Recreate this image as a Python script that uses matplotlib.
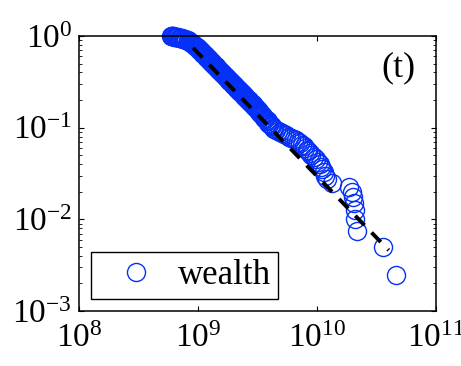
import matplotlib
matplotlib.use("Agg")
import matplotlib.pyplot as plt
from matplotlib.ticker import LogLocator

plt.rcParams["font.family"] = ["Liberation Serif", "DejaVu Serif"]
plt.rcParams["mathtext.fontset"] = "stix"

# wealth values (sorted) and their complementary cumulative distribution
wealth = [
    5.93e8, 6.00e8, 6.07e8, 6.14e8, 6.21e8, 6.28e8, 6.38e8, 6.47e8, 6.58e8, 6.69e8,
    6.80e8, 6.92e8, 7.04e8, 7.17e8, 7.29e8, 7.41e8, 7.50e8, 7.62e8, 7.74e8, 7.86e8,
    7.95e8, 8.25e8, 8.41e8, 8.55e8, 8.71e8, 8.88e8, 9.05e8, 9.22e8, 9.39e8, 9.57e8,
    9.74e8, 9.93e8, 1.012e9, 1.027e9, 1.042e9, 1.059e9, 1.074e9, 1.090e9, 1.107e9, 1.124e9,
    1.140e9, 1.156e9, 1.174e9, 1.193e9, 1.209e9, 1.226e9, 1.246e9, 1.265e9, 1.284e9, 1.303e9,
    1.322e9, 1.342e9, 1.362e9, 1.383e9, 1.403e9, 1.425e9, 1.445e9, 1.467e9, 1.490e9, 1.512e9,
    1.536e9, 1.558e9, 1.582e9, 1.606e9, 1.628e9, 1.654e9, 1.677e9, 1.704e9, 1.730e9, 1.756e9,
    1.783e9, 1.807e9, 1.836e9, 1.861e9, 1.893e9, 1.921e9, 1.949e9, 1.978e9, 2.009e9, 2.035e9,
    2.068e9, 2.097e9, 2.132e9, 2.161e9, 2.193e9, 2.226e9, 2.259e9, 2.294e9, 2.330e9, 2.368e9,
    2.399e9, 2.439e9, 2.472e9, 2.506e9, 2.550e9, 2.587e9, 2.626e9, 2.665e9, 2.706e9, 2.749e9,
    2.781e9, 2.827e9, 2.874e9, 2.911e9, 2.961e9, 3.000e9, 3.041e9, 3.096e9, 3.141e9, 3.185e9,
    3.232e9, 3.280e9, 3.293e9, 3.371e9, 3.443e9, 3.520e9, 3.602e9, 3.688e9, 3.778e9, 3.875e9,
    3.887e9, 3.980e9, 4.072e9, 4.165e9, 4.274e9, 4.350e9, 4.523e9, 4.700e9, 4.889e9, 5.080e9,
    5.281e9, 5.540e9, 5.818e9, 6.100e9, 6.409e9, 6.660e9, 6.923e9, 7.200e9, 7.479e9, 7.700e9,
    7.928e9, 8.160e9, 8.402e9, 8.650e9, 8.905e9, 9.436e9, 9.808e9, 1.0195e10, 1.060e10, 1.080e10,
    1.102e10, 1.145e10, 1.168e10, 1.213e10, 1.337e10, 1.857e10, 1.968e10, 2.007e10, 2.046e10, 2.086e10,
    2.086e10, 2.168e10, 3.586e10, 4.612e10,
]
ccdf = [
    1.0, 0.997, 0.994, 0.991, 0.988, 0.985, 0.981, 0.977, 0.973, 0.969,
    0.965, 0.960, 0.955, 0.950, 0.944, 0.938, 0.932, 0.926, 0.920, 0.913,
    0.906, 0.900, 0.882, 0.865, 0.848, 0.831, 0.815, 0.799, 0.783, 0.768,
    0.753, 0.738, 0.723, 0.709, 0.695, 0.681, 0.668, 0.655, 0.642, 0.629,
    0.617, 0.605, 0.593, 0.581, 0.570, 0.559, 0.548, 0.537, 0.526, 0.516,
    0.506, 0.496, 0.486, 0.476, 0.467, 0.458, 0.449, 0.440, 0.431, 0.423,
    0.414, 0.406, 0.398, 0.390, 0.383, 0.375, 0.368, 0.360, 0.353, 0.346,
    0.339, 0.333, 0.326, 0.320, 0.313, 0.307, 0.301, 0.295, 0.289, 0.284,
    0.278, 0.273, 0.267, 0.262, 0.257, 0.252, 0.247, 0.242, 0.237, 0.232,
    0.228, 0.223, 0.219, 0.215, 0.210, 0.206, 0.202, 0.198, 0.194, 0.190,
    0.187, 0.183, 0.179, 0.176, 0.172, 0.169, 0.166, 0.162, 0.159, 0.156,
    0.153, 0.150, 0.1455, 0.141, 0.137, 0.133, 0.129, 0.125, 0.121, 0.117,
    0.1135, 0.110, 0.1067, 0.1035, 0.100, 0.0975, 0.095, 0.0925, 0.090, 0.0875,
    0.085, 0.0825, 0.080, 0.0775, 0.075, 0.0725, 0.070, 0.0675, 0.065, 0.0625,
    0.060, 0.0575, 0.055, 0.0525, 0.050, 0.0475, 0.045, 0.0425, 0.040, 0.0375,
    0.035, 0.0325, 0.030, 0.0275, 0.025, 0.0225, 0.020, 0.0175, 0.015, 0.0125,
    0.010, 0.0075, 0.005, 0.0025,
]

# power-law fit, drawn between its end points
fit_x = [9.1e8, 4.0e10]
fit_y = [0.74, 0.0046]

blue = "#0530f8"

fig = plt.figure(figsize=(4.61, 3.66), dpi=100)
ax = fig.add_axes([0.1714, 0.1503, 0.7744, 0.7513])

ax.plot(wealth, ccdf, "o", mfc="none", mec=blue, ms=13, mew=1.0,
        label="wealth", clip_on=False, zorder=2)
ax.plot(fit_x, fit_y, "k--", lw=2.8, dashes=(3.4, 2.6), zorder=3)

ax.set_xscale("log")
ax.set_yscale("log")
ax.set_xlim(1e8, 1e11)
ax.set_ylim(1e-3, 1e0)
ax.xaxis.set_major_locator(LogLocator(base=10, numticks=10))
ax.yaxis.set_major_locator(LogLocator(base=10, numticks=10))

ax.tick_params(which="both", direction="in", top=True, right=True, labelsize=24)
ax.tick_params(which="major", length=3.5, width=0.8)
ax.tick_params(which="minor", length=2.2, width=0.6)
ax.tick_params(axis="x", pad=9)
ax.tick_params(axis="y", pad=5)
for sp in ax.spines.values():
    sp.set_linewidth(1.1)

ax.text(0.894, 0.884, "(t)", transform=ax.transAxes, fontsize=26,
        ha="center", va="center")

leg = ax.legend(loc="lower left", fontsize=25, frameon=True, fancybox=False,
                framealpha=1, edgecolor="black", borderpad=0.2,
                handlelength=2.2, handletextpad=0.1, borderaxespad=0.35,
                numpoints=1)
leg.get_frame().set_linewidth(1.0)

fig.savefig("out.png", dpi=100)
